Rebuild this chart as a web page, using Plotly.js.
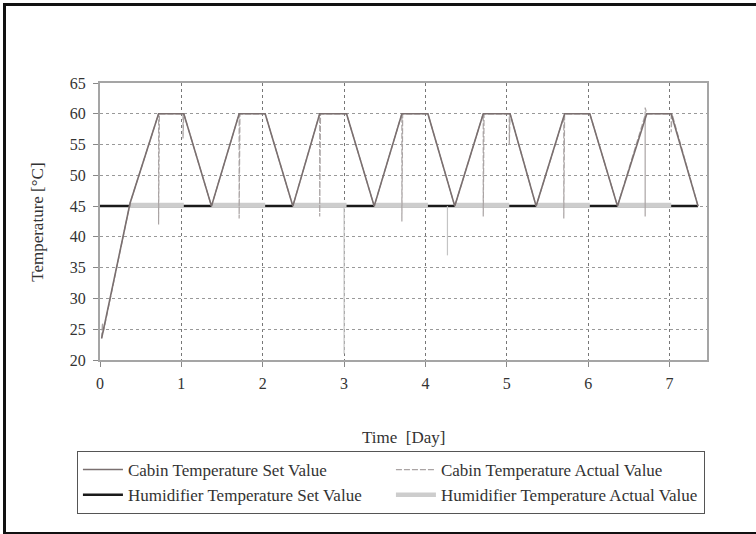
<!DOCTYPE html>
<html>
<head>
<meta charset="utf-8">
<script src="https://cdn.plot.ly/plotly-3.0.1.min.js"></script>
<style>
  html, body { margin: 0; padding: 0; background: #fff; }
  #wrap { position: relative; width: 756px; height: 534px; }
  #chart { position: absolute; left: 0; top: 0; width: 756px; height: 534px; }
  #frame { position: absolute; left: 3px; top: 3px; width: 760px; height: 526px;
           border-top: 3px solid #111; border-left: 3px solid #111; border-bottom: 3px solid #111;
           pointer-events: none; }
</style>
</head>
<body>
<div id="wrap">
  <div id="chart"></div>
  <div id="frame"></div>
</div>
<script>
// ---- Data ----
// Cabin temperature set value [°C] vs time [day]
const cabinSetX = [0.02, 0.37, 0.72, 1.03, 1.37, 1.71, 2.03, 2.37, 2.70, 3.03, 3.37, 3.71, 4.03, 4.36, 4.71, 5.04, 5.36, 5.71, 6.02, 6.36, 6.72, 7.02, 7.35];
const cabinSetY = [23.5, 45.5, 60, 60, 45, 60, 60, 45, 60, 60, 45, 60, 60, 45, 60, 60, 45, 60, 60, 45, 60, 60, 45];

// Cabin temperature actual value (follows set value, with short spikes)
const cabinActX = [0.02, 0.03, 0.04, 0.37, 0.72, 0.72, 0.73, 1.02, 1.02, 1.03, 1.37, 1.71, 1.71, 1.72, 2.03, 2.37, 2.70, 2.70, 2.71, 3.03, 3.37, 3.71, 3.71, 3.72, 4.03, 4.36, 4.71, 4.71, 4.72, 5.03, 5.03, 5.04, 5.36, 5.70, 5.70, 5.71, 6.02, 6.36, 6.70, 6.70, 6.70, 6.72, 7.02, 7.02, 7.03, 7.35];
const cabinActY = [23.5, 26.0, 24.5, 45.5, 60, 42.0, 60, 60, 56.0, 60, 45, 60, 43.0, 60, 60, 45, 60, 43.3, 60, 60, 45, 60, 42.5, 60, 60, 45, 60, 43.3, 60, 60, 55.0, 60, 45, 59.5, 43.0, 60, 60, 45, 59.8, 43.3, 61.0, 60, 60, 57.0, 60, 45];

// Humidifier temperature set value
const humSetX = [0.0, 7.35];
const humSetY = [45, 45];

// Humidifier temperature actual value (drawn where the humidifier runs)
const humActX = [0.37, 1.03, null, 1.37, 2.03, null, 2.37, 3.03, null, 3.37, 4.03, null, 4.36, 5.03, null, 5.36, 6.02, null, 6.36, 7.02];
const humActY = [45.2, 45.2, null, 45.2, 45.2, null, 45.2, 45.2, null, 45.2, 45.2, null, 45.2, 45.2, null, 45.2, 45.2, null, 45.2, 45.2];

// Humidifier actual value: two short drops
const humDropX = [3.00, 3.00, null, 4.27, 4.27];
const humDropY = [45.0, 21.0, null, 45.0, 37.0];

const xTicks = [0, 1, 2, 3, 4, 5, 6, 7];
const yTicks = [20, 25, 30, 35, 40, 45, 50, 55, 60, 65];

const FONT = 'Liberation Serif, Times New Roman, serif';

const traces = [
  { x: humSetX, y: humSetY, type: 'scatter', mode: 'lines', name: 'Humidifier Temperature Set Value',
    line: { color: '#1a1a1a', width: 2.5 }, legendrank: 3 },
  { x: humActX, y: humActY, type: 'scatter', mode: 'lines', name: 'Humidifier Temperature Actual Value',
    line: { color: '#cdcdcd', width: 4.5 }, connectgaps: false, legendrank: 4, legendgroup: 'ha' },
  { x: humDropX, y: humDropY, type: 'scatter', mode: 'lines', name: 'Humidifier Temperature Actual Value',
    line: { color: '#c4c4c4', width: 1.2 }, connectgaps: false, showlegend: false, legendgroup: 'ha' },
  { x: cabinActX, y: cabinActY, type: 'scatter', mode: 'lines', name: 'Cabin Temperature Actual Value',
    line: { color: '#aaa4a4', width: 1.2, dash: '6px,2px' }, legendrank: 2 },
  { x: cabinSetX, y: cabinSetY, type: 'scatter', mode: 'lines', name: 'Cabin Temperature Set Value',
    line: { color: '#7a6f6f', width: 1.6 }, legendrank: 1 }
];

const layout = {
  width: 756, height: 534,
  margin: { l: 100, r: 49, t: 83, b: 174, pad: 0 },
  paper_bgcolor: '#ffffff', plot_bgcolor: '#ffffff',
  font: { family: FONT, size: 16, color: '#333' },
  showlegend: true,
  legend: {
    orientation: 'h', x: -0.038, xanchor: 'left', y: -0.3285, yanchor: 'top',
    bordercolor: '#555', borderwidth: 1, bgcolor: '#fff',
    font: { family: FONT, size: 17, color: '#333' },
    entrywidth: 258, entrywidthmode: 'pixels', itemwidth: 40,
    traceorder: 'normal', tracegroupgap: 0
  },
  xaxis: {
    range: [0, 7.46], tickvals: xTicks, ticktext: xTicks.map(String),
    showgrid: true, gridcolor: '#777', griddash: 'dot', gridwidth: 1,
    zeroline: false, showline: true, linecolor: '#a5a5a5', linewidth: 2, mirror: true,
    ticks: 'outside', ticklen: 5, tickcolor: '#888', tickwidth: 1,
    ticklabelstandoff: 3,
    tickfont: { family: FONT, size: 16, color: '#333' }
  },
  yaxis: {
    range: [20, 65], tickvals: yTicks, ticktext: yTicks.map(String),
    showgrid: true, gridcolor: '#999', griddash: 'dot', gridwidth: 1,
    zeroline: false, showline: true, linecolor: '#a5a5a5', linewidth: 2, mirror: true,
    ticks: 'outside', ticklen: 5, tickcolor: '#888', tickwidth: 1,
    ticklabelstandoff: 4,
    tickfont: { family: FONT, size: 16, color: '#333' }
  },
  annotations: [
    { text: 'Time  [Day]', xref: 'paper', yref: 'paper', x: 0.5, y: -0.28, xanchor: 'center', yanchor: 'middle',
      showarrow: false, font: { family: FONT, size: 17, color: '#333' } },
    { text: 'Temperature [°C]', xref: 'paper', yref: 'paper', x: -0.103, y: 0.497, xanchor: 'center', yanchor: 'middle',
      textangle: -90, showarrow: false, font: { family: FONT, size: 17, color: '#333' } }
  ]
};

Plotly.newPlot('chart', traces, layout, { displayModeBar: false, staticPlot: true });
</script>
</body>
</html>
